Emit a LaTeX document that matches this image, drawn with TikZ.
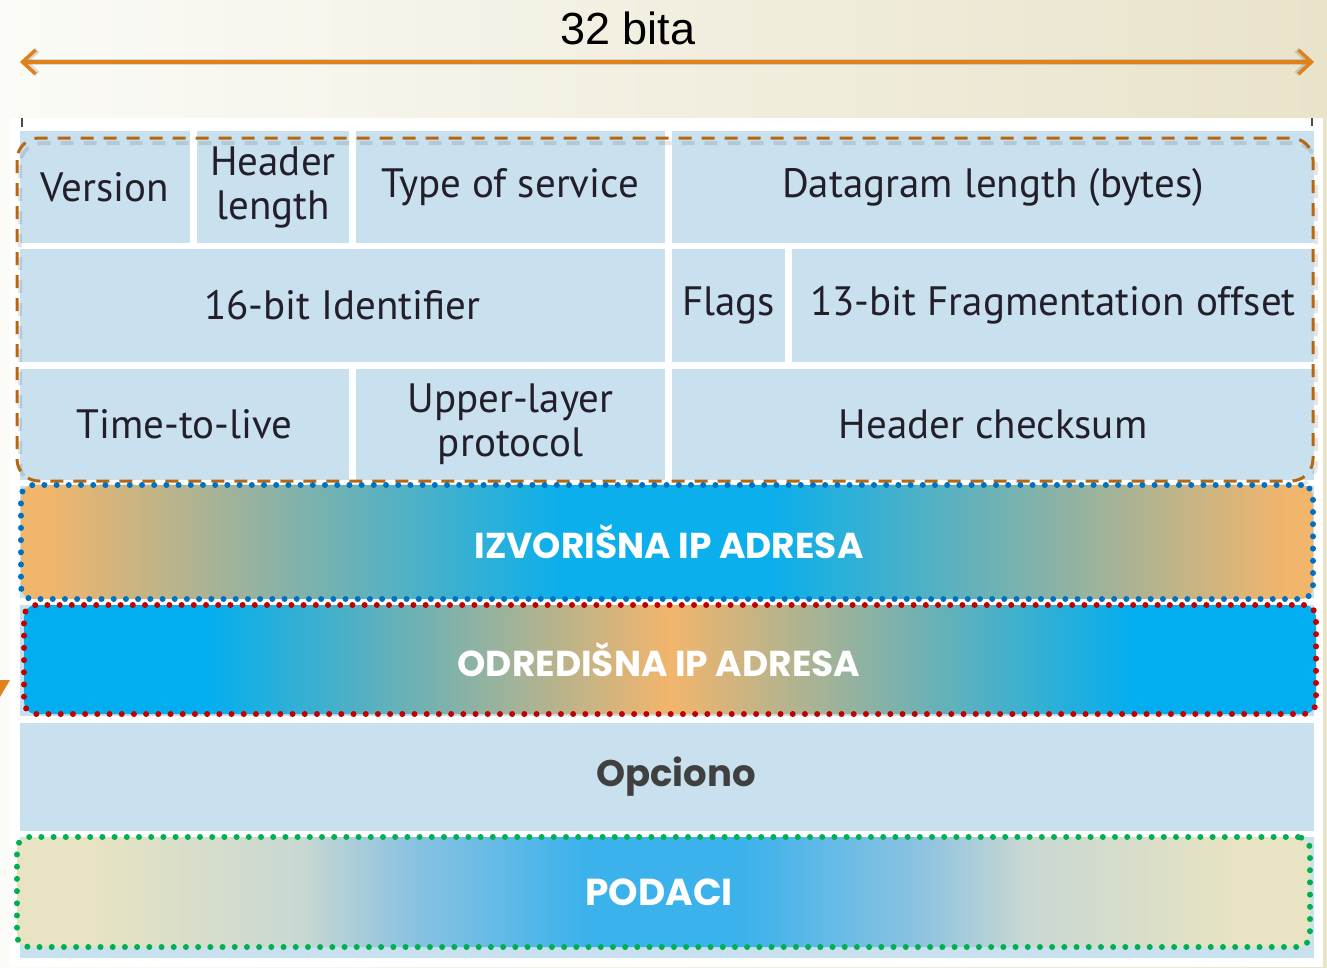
\documentclass[tikz,border=0pt]{standalone}
\usepackage{fontspec}
\usetikzlibrary{arrows.meta}
\newfontfamily\cellfont{PT Sans}
\newfontfamily\gfont{Poppins}
\newfontfamily\topfont{Liberation Sans}
\definecolor{bgL}{HTML}{FBFBF7}
\definecolor{bgR}{HTML}{E9E3CA}
\definecolor{cellblue}{HTML}{C9E0EF}
\definecolor{txt}{HTML}{231F2A}
\definecolor{arrowor}{HTML}{E0821C}
\definecolor{dashor}{HTML}{B8670F}
\definecolor{dotblue}{HTML}{0070C0}
\definecolor{dotred}{HTML}{C00000}
\definecolor{dotgreen}{HTML}{00B050}
\definecolor{orA}{HTML}{F2B56C}
\definecolor{cyA}{HTML}{0AAFEC}
\definecolor{cyB}{HTML}{02AEEF}
\definecolor{beA}{HTML}{E7E3C3}
\definecolor{beB}{HTML}{C8D8D2}
\definecolor{blA}{HTML}{8EC3E0}
\definecolor{blB}{HTML}{3BB2EC}
\definecolor{opc}{HTML}{404040}
\pgfdeclarehorizontalshading{izvsh}{100bp}{color(0bp)=(orA); color(26bp)=(orA); color(46bp)=(cyA); color(54bp)=(cyA); color(74bp)=(orA); color(100bp)=(orA)}
\pgfdeclarehorizontalshading{odrsh}{100bp}{color(0bp)=(cyB); color(32bp)=(cyB); color(50bp)=(orA); color(68bp)=(cyB); color(100bp)=(cyB)}
\pgfdeclarehorizontalshading{podsh}{100bp}{color(0bp)=(beA); color(28bp)=(beA); color(36bp)=(beB); color(40bp)=(blA); color(47bp)=(blB); color(53bp)=(blB); color(60bp)=(blA); color(64bp)=(beB); color(72bp)=(beA); color(100bp)=(beA)}
\newcommand\mycell[6]{\node[cell, minimum width={#4-#2}, minimum height={#5-#3}] (#1) at ({(#2+#4)/2},{(#3+#5)/2}) {#6};}
\begin{document}
\begin{tikzpicture}[x=1pt,y=-1pt,
  cell/.style={fill=cellblue, draw=none, inner sep=0pt, outer sep=0pt, align=center,
    text=txt, font=\cellfont\fontsize{41}{46}\selectfont},
  band/.style={inner sep=0pt, outer sep=0pt, rounded corners=12pt, line width=6pt,
    line cap=round, dash pattern=on 0pt off 12.2pt, text=white,
    font=\gfont\bfseries\fontsize{36}{42}\selectfont},
  tickmark/.style={draw=black!70, line width=1.5pt},
  bitarrow/.style={draw=arrowor, line width=3.5pt, {Straight Barb[length=13pt,width=24pt]}-{Straight Barb[length=13pt,width=24pt]}}
]
\useasboundingbox (0,0) rectangle (1327,967);
\shade[left color=bgL, right color=bgR] (0,0) rectangle (1327,967);
\fill[arrowor] (0,680) -- (10,680) -- (0,697) -- cycle;
\fill[white] (10,118) rectangle (1323,967);
\coordinate (t1a) at (22,118); \coordinate (t1b) at (22,127);
\coordinate (t2a) at (1312,118); \coordinate (t2b) at (1312,126);
\draw[tickmark] (t1a) -- (t1b);
\draw[tickmark] (t2a) -- (t2b);
% arrow
\coordinate (aL) at (20,62); \coordinate (aR) at (1314,62);
\draw[bitarrow, draw=black, opacity=.12, line width=6pt, shift={(3,5)}] (aL) -- (aR);
\draw[bitarrow] (aL) -- (aR);
\node[font=\topfont\fontsize{45}{50}\selectfont, text=black] (title) at (628,28) {32 bita};
% header cells
\mycell{ver}{20}{131}{190}{243}{Version}
\mycell{hl}{197}{131}{349}{243}{Header\\[-2pt]length}
\mycell{tos}{356}{131}{665}{243}{Type of service}
\mycell{dl}{672}{131}{1314}{243}{Datagram length (bytes)}
\mycell{id}{20}{249}{665}{362}{16-bit Identifier}
\mycell{fl}{672}{249}{785}{362}{Flags}
\mycell{fo}{792}{249}{1314}{362}{13-bit Fragmentation offset}
\mycell{ttl}{20}{369}{349}{480}{Time-to-live}
\mycell{ulp}{356}{369}{665}{480}{Upper-layer\\[-2pt]protocol}
\mycell{cs}{672}{369}{1314}{480}{Header checksum}
\mycell{r4}{20}{486}{1314}{598}{}
\mycell{r5}{20}{605}{1314}{716}{}
\mycell{r6}{20}{723}{1314}{831}{\hspace*{18pt}\gfont\bfseries\fontsize{37}{42}\selectfont\color{opc}Opciono}
\mycell{r7}{20}{837}{1314}{958}{}
% dashed header frame
\draw[black, opacity=.10, line width=4pt, dash pattern=on 13pt off 10pt, rounded corners=22pt, shift={(3,5)}] (17,138) rectangle (1313,481);
\draw[dashor, line width=3pt, dash pattern=on 13pt off 10pt, rounded corners=22pt] (17,138) rectangle (1313,481);
% bands
\node[band, draw=dotblue, shading=izvsh, minimum width=1292, minimum height=114] (src) at (667,542) {\hspace*{4pt}IZVORIŠNA IP ADRESA};
\node[band, draw=dotred, shading=odrsh, minimum width=1292, minimum height=109] (dst) at (670,659.5) {ODREDIŠNA IP ADRESA\hspace*{22pt}};
\node[band, draw=dotgreen, shading=podsh, minimum width=1293, minimum height=110, font=\gfont\bfseries\fontsize{37.5}{42}\selectfont] (data) at (663.5,892) {PODACI\hspace*{9pt}};
\end{tikzpicture}
\end{document}
